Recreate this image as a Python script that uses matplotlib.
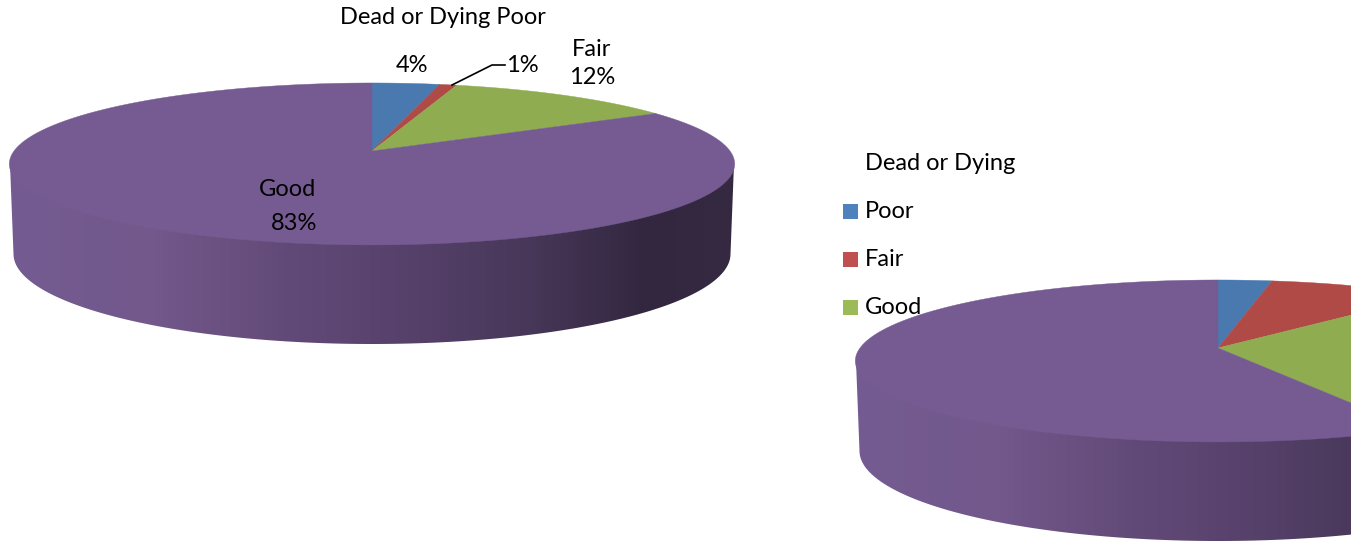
import numpy as np
import matplotlib.pyplot as plt
from matplotlib.colors import LinearSegmentedColormap
from matplotlib.patches import Polygon, Rectangle

plt.rcParams['font.family'] = ['Lato', 'DejaVu Sans']

categories = ["Dead or Dying", "Poor", "Fair", "Good"]
left_values = [3.5, 0.9, 12, 83.6]
right_values = [2.8, 8.8, 30.6, 57.8]
slice_colors = ['#4a79b0', '#b04a47', '#8fac50', '#755b92']
legend_colors = ['#4f81bd', '#c0504d', '#9bbb59']

k = 0.16
rx, a = 358.0, 78.9
wall_cmap = LinearSegmentedColormap.from_list('wall', [
    (0.0, '#745b91'), (0.2, '#72588b'), (0.38, '#624a78'), (0.55, '#56416b'),
    (0.72, '#473758'), (0.88, '#32273f'), (1.0, '#352a42')])

fig = plt.figure(figsize=(13.51, 5.42), dpi=100)
ax = fig.add_axes([0, 0, 1, 1])


# flat circle seen in perspective, angle clockwise from the top
def project(theta, cx, cy):
    u, v = np.sin(theta), np.cos(theta)
    w = 1 + k * v
    return cx + rx * u / w, cy - a * v / w


def draw_pie(values, cx, cy):
    # side wall, its top edge runs under the face so no seam shows
    ts = np.linspace(0, np.pi, 200)
    top_x = cx + 362 * np.cos(ts)
    top_y = cy + 13 + 60 * np.sin(ts)
    bot_x = cx + 358.5 * np.cos(ts[::-1])
    bot_y = cy + 103 + 90 * np.sin(ts[::-1])
    wall = Polygon(np.c_[np.r_[top_x, bot_x], np.r_[top_y, bot_y]],
                   closed=True, fc='none', ec='none', transform=ax.transData)
    ax.add_patch(wall)
    im = ax.imshow(np.linspace(0, 1, 256).reshape(1, -1), cmap=wall_cmap, aspect='auto',
                   extent=[cx - 363, cx + 363, cy + 250, cy], zorder=1)
    im.set_clip_path(wall)

    # top face
    edges = np.cumsum([0] + values) / sum(values) * 2 * np.pi
    for i in range(len(values)):
        th = np.linspace(edges[i], edges[i + 1], 300)
        x, y = project(th, cx, cy)
        ax.fill(np.r_[cx, x], np.r_[cy, y], color=slice_colors[i], lw=0.3, zorder=2)


draw_pie(left_values, 372, 151)
draw_pie(right_values, 1218, 348)

fs = 17
ax.text(443, 18, categories[0] + " " + categories[1], fontsize=fs, ha='center', va='center')
ax.text(412, 65, "4%", fontsize=fs, ha='center', va='center')
ax.text(522, 65, "1%", fontsize=fs, ha='center', va='center')
ax.plot([452, 492, 505], [85, 65, 65], color='black', lw=1.2, zorder=3)
ax.text(592, 50, categories[2], fontsize=fs, ha='center', va='center')
ax.text(592, 78, "12%", fontsize=fs, ha='center', va='center')
ax.text(288, 190, categories[3], fontsize=fs, ha='center', va='center', zorder=4)
ax.text(294, 223, "83%", fontsize=fs, ha='center', va='center', zorder=4)

# legend
ax.text(865, 164, categories[0], fontsize=fs, ha='left', va='center', zorder=4)
for name, col, y in zip(categories[1:], legend_colors, [211, 259, 307]):
    ax.add_patch(Rectangle((843, y - 7), 15, 15, fc=col, ec='none', zorder=4))
    ax.text(865, y + 1, name, fontsize=fs, ha='left', va='center', zorder=4)

ax.set_xlim(0, 1351)
ax.set_ylim(542, 0)
ax.axis('off')

plt.savefig('out.png', dpi=100)
